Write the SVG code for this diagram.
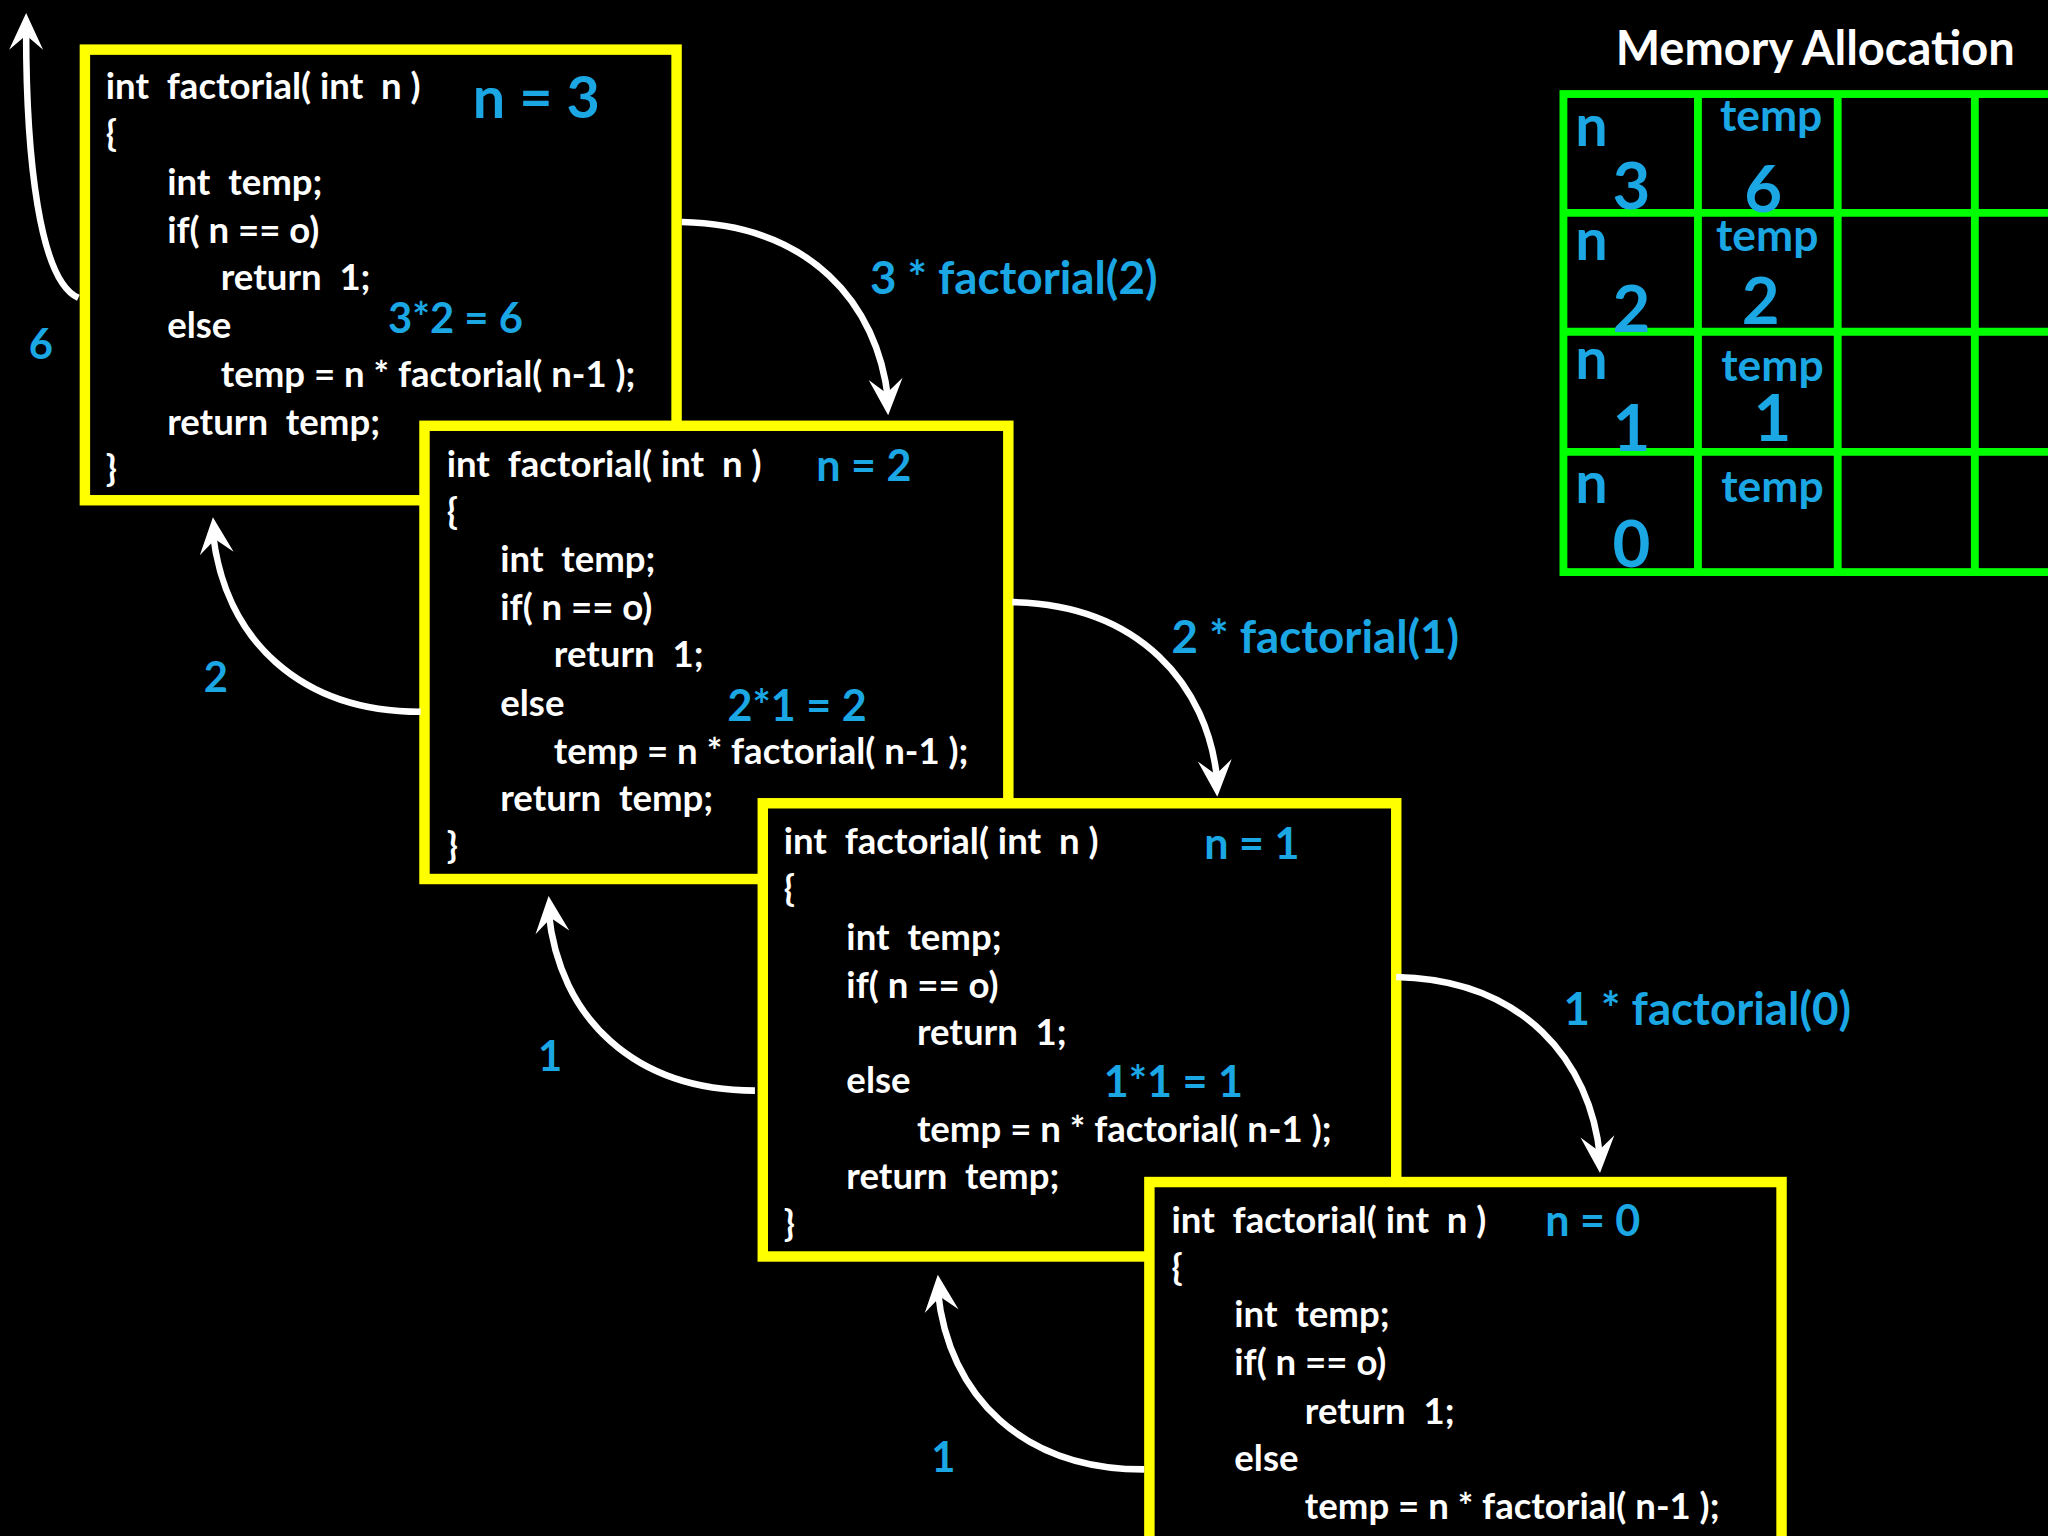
<svg xmlns="http://www.w3.org/2000/svg" width="2048" height="1536" viewBox="0 0 2048 1536">
<style>
.box{fill:#000;stroke:#ffff00;stroke-width:8}
.code{font-family:Lato,"Liberation Sans",sans-serif;font-size:28px;font-weight:bold;fill:#fff;white-space:pre}
.blue{font-family:Lato,"Liberation Sans",sans-serif;font-weight:bold;fill:#1ba6e4}
.wire{fill:none;stroke:#fff;stroke-width:5}
.grid{fill:none;stroke:#00ff00;stroke-width:6}
</style>
<defs>
<path id="head" d="M0,0 L-13,-28 L0,-17 L13,-28 Z" fill="#fff"/>
</defs>
<rect width="2048" height="1536" fill="#000"/>
<g transform="scale(1.30612)">
<g id="box1">
<rect class="box" x="65" y="38" width="453" height="345"/>
<text class="code" x="81" y="76">int  factorial( int  n )</text>
<text class="code" x="81" y="112">{</text>
<text class="code" x="128" y="149">int  temp;</text>
<text class="code" x="128" y="186">if( n == o)</text>
<text class="code" x="169" y="222">return  1;</text>
<text class="code" x="128" y="259">else</text>
<text class="code" x="169" y="296">temp = n * factorial( n-1 );</text>
<text class="code" x="128" y="333">return  temp;</text>
<text class="code" x="81" y="368">}</text>
<text class="blue" x="362" y="90" font-size="44">n = 3</text>
<text class="blue" x="297" y="255" font-size="32">3*2 = 6</text>
</g>
<g id="box2">
<rect class="box" x="325" y="326" width="447" height="347"/>
<text class="code" x="342" y="365">int  factorial( int  n )</text>
<text class="code" x="342" y="401">{</text>
<text class="code" x="383" y="438">int  temp;</text>
<text class="code" x="383" y="475">if( n == o)</text>
<text class="code" x="424" y="511">return  1;</text>
<text class="code" x="383" y="548">else</text>
<text class="code" x="424" y="585">temp = n * factorial( n-1 );</text>
<text class="code" x="383" y="621">return  temp;</text>
<text class="code" x="342" y="657">}</text>
<text class="blue" x="625" y="368" font-size="33">n = 2</text>
<text class="blue" x="557" y="552" font-size="33">2*1 = 2</text>
</g>
<g id="box3">
<rect class="box" x="584" y="615" width="485" height="347"/>
<text class="code" x="600" y="654">int  factorial( int  n )</text>
<text class="code" x="600" y="690">{</text>
<text class="code" x="648" y="727">int  temp;</text>
<text class="code" x="648" y="764">if( n == o)</text>
<text class="code" x="702" y="800">return  1;</text>
<text class="code" x="648" y="837">else</text>
<text class="code" x="702" y="874">temp = n * factorial( n-1 );</text>
<text class="code" x="648" y="910">return  temp;</text>
<text class="code" x="600" y="946">}</text>
<text class="blue" x="922" y="658" font-size="33">n = 1</text>
<text class="blue" x="845" y="840" font-size="33">1*1 = 1</text>
</g>
<g id="box4">
<rect class="box" x="880" y="905" width="484" height="300"/>
<text class="code" x="897" y="944">int  factorial( int  n )</text>
<text class="code" x="897" y="980">{</text>
<text class="code" x="945" y="1016">int  temp;</text>
<text class="code" x="945" y="1053">if( n == o)</text>
<text class="code" x="999" y="1090">return  1;</text>
<text class="code" x="945" y="1126">else</text>
<text class="code" x="999" y="1163">temp = n * factorial( n-1 );</text>
<text class="blue" x="1183" y="946" font-size="33">n = 0</text>
</g>
<g id="connectors">
<path class="wire" d="M522,170 C620,172 672,232 680,306"/>
<path class="wire" d="M775,461 C872,463 925,524 932,598"/>
<path class="wire" d="M1069,748 C1166,750 1218,812 1225,886"/>
<path class="wire" d="M322,545 C230,545 172,490 163,408"/>
<path class="wire" d="M578,835 C486,835 428,780 420,698"/>
<path class="wire" d="M876,1125 C784,1125 726,1070 718,988"/>
<path class="wire" d="M60,228 C30,215 20,120 20,24"/>
<use href="#head" transform="translate(680,318) rotate(-4)"/>
<use href="#head" transform="translate(932,610) rotate(-4)"/>
<use href="#head" transform="translate(1225,898) rotate(-4)"/>
<use href="#head" transform="translate(163,396) rotate(174)"/>
<use href="#head" transform="translate(420,686) rotate(174)"/>
<use href="#head" transform="translate(718,976) rotate(174)"/>
<use href="#head" transform="translate(20,10) rotate(180)"/>
<text class="blue" x="666" y="225" font-size="35">3 * factorial(2)</text>
<text class="blue" x="897" y="500" font-size="35">2 * factorial(1)</text>
<text class="blue" x="1197" y="785" font-size="35">1 * factorial(0)</text>
<text class="blue" x="22" y="275" font-size="32">6</text>
<text class="blue" x="156" y="530" font-size="32">2</text>
<text class="blue" x="412" y="820" font-size="32">1</text>
<text class="blue" x="713" y="1127" font-size="32">1</text>
</g>
<g id="memory">
<text x="1237" y="50" font-family="Lato,'Liberation Sans',sans-serif" font-weight="bold" font-size="36" fill="#fff">Memory Allocation</text>
<rect class="grid" x="1197" y="72" width="400" height="366"/>
<path class="grid" d="M1300,72V438M1407,72V438M1512,72V438M1197,163H1597M1197,254H1597M1197,346H1597"/>
<g class="blue" font-size="44">
<text x="1206" y="112">n</text><text x="1206" y="199">n</text><text x="1206" y="290">n</text><text x="1206" y="385">n</text>
</g>
<g class="blue" font-size="50" text-anchor="middle">
<text x="1249" y="160">3</text><text x="1249" y="254">2</text><text x="1249" y="345">1</text><text x="1249" y="434">0</text>
<text x="1350" y="162">6</text><text x="1348" y="248">2</text><text x="1357" y="338">1</text>
</g>
<g class="blue" font-size="34" text-anchor="middle">
<text x="1356" y="100">temp</text><text x="1353" y="192">temp</text><text x="1357" y="292">temp</text><text x="1357" y="384">temp</text>
</g>
</g>
</g>
</svg>
